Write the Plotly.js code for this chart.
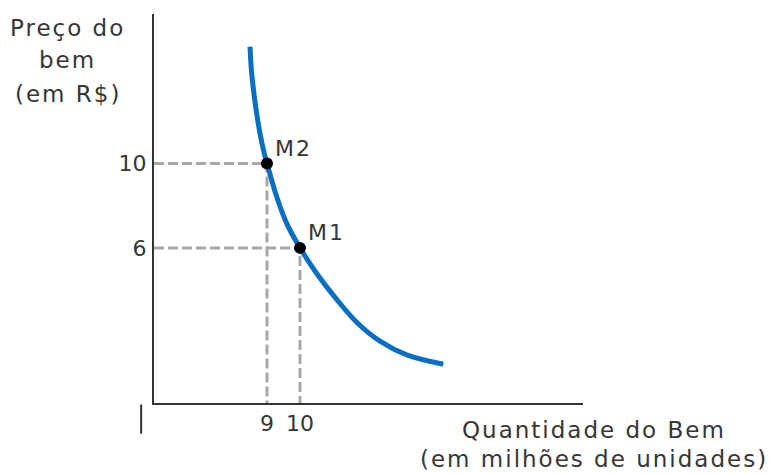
<!DOCTYPE html>
<html>
<head>
<meta charset="utf-8">
<script src="https://cdn.plot.ly/plotly-3.0.1.min.js"></script>
<style>
html,body{margin:0;padding:0;background:#fff}
#chart{width:772px;height:474px}
#chart .annotation-text{letter-spacing:2px}
</style>
</head>
<body>
<div id="chart"></div>
<script>
// Demand curve (schematic)
const curveQty   = [8.485, 8.536, 8.658, 8.788, 8.918, 9.0, 9.294, 9.597, 10.0, 10.506, 11.112, 11.718, 12.424, 13.233, 14.342];
const curvePrice = [15.53, 14.27, 12.68, 11.42, 10.47, 10.0, 8.42, 7.16, 6.0, 4.79, 3.56, 2.48, 1.58, 0.93, 0.49];

// Marked points
const pointNames = ["M2", "M1"];
const pointQty   = [9, 10];
const pointPrice = [10, 6];

// Tick labels
const xTickVals = [9, 10];
const xTickText = ["9", "10"];
const yTickVals = [10, 6];
const yTickText = ["10", "6"];

const yTitleLines = ["Preço do", "bem", "(em R$)"];
const xTitleLines = ["Quantidade do Bem", "(em milhões de unidades)"];

const xRange = [5.576, 18.576];
const yRange = [-1.346, 17.076];

const textColor = "#363636";
const fontFam = "DejaVu Sans, Verdana, sans-serif";

const traces = [];
// dashed guide lines
pointNames.forEach((n, i) => {
  traces.push({
    x: [xRange[0], pointQty[i], pointQty[i]],
    y: [pointPrice[i], pointPrice[i], yRange[0]],
    mode: "lines",
    line: {color: "#a8a8a8", width: 3, dash: "10px,4px"},
    hoverinfo: "skip", showlegend: false, cliponaxis: false
  });
});
// curve
traces.push({
  x: curveQty, y: curvePrice,
  mode: "lines",
  line: {color: "#0a6fc2", width: 5, shape: "spline", smoothing: 1},
  showlegend: false
});
// points
traces.push({
  x: pointQty, y: pointPrice,
  mode: "markers",
  marker: {color: "#000", size: 12},
  showlegend: false, cliponaxis: false
});

const annotations = [];
pointNames.forEach((n, i) => {
  annotations.push({
    xref: "x", yref: "y", x: pointQty[i], y: pointPrice[i],
    xanchor: "left", yanchor: "middle", xshift: 8, yshift: 15,
    text: n, showarrow: false,
    font: {family: fontFam, size: 22, color: textColor}
  });
});
const yTitleY = [0.964, 0.882, 0.795];
yTitleLines.forEach((t, i) => {
  annotations.push({
    xref: "paper", yref: "paper", x: -0.2005, y: yTitleY[i],
    xanchor: "center", yanchor: "middle", text: t, showarrow: false,
    font: {family: fontFam, size: 23, color: textColor}
  });
});
const xTitleY = [-0.0694, -0.145];
xTitleLines.forEach((t, i) => {
  annotations.push({
    xref: "paper", yref: "paper", x: 1.0256, y: xTitleY[i],
    xanchor: "center", yanchor: "middle", text: t, showarrow: false,
    font: {family: fontFam, size: 23, color: textColor}
  });
});

const layout = {
  width: 772, height: 474,
  margin: {l: 154, r: 189, t: 14, b: 71},
  paper_bgcolor: "#fff", plot_bgcolor: "#fff",
  font: {family: fontFam, size: 22, color: textColor},
  xaxis: {
    range: xRange, showgrid: false, zeroline: false,
    showline: true, linecolor: "#333", linewidth: 2,
    tickvals: xTickVals, ticktext: xTickText, ticks: "",
    tickfont: {family: fontFam, size: 22, color: textColor},
    ticklabelstandoff: 0
  },
  yaxis: {
    range: yRange, showgrid: false, zeroline: false,
    showline: true, linecolor: "#333", linewidth: 2,
    tickvals: yTickVals, ticktext: yTickText, ticks: "",
    tickfont: {family: fontFam, size: 22, color: textColor},
    ticklabelstandoff: 1
  },
  annotations: annotations,
  shapes: [
    {type: "line", xref: "paper", yref: "paper", x0: -0.03, x1: -0.03, y0: -0.004, y1: -0.079,
     line: {color: "#333", width: 2}}
  ]
};

Plotly.newPlot("chart", traces, layout, {displayModeBar: false, staticPlot: true});
</script>
</body>
</html>
